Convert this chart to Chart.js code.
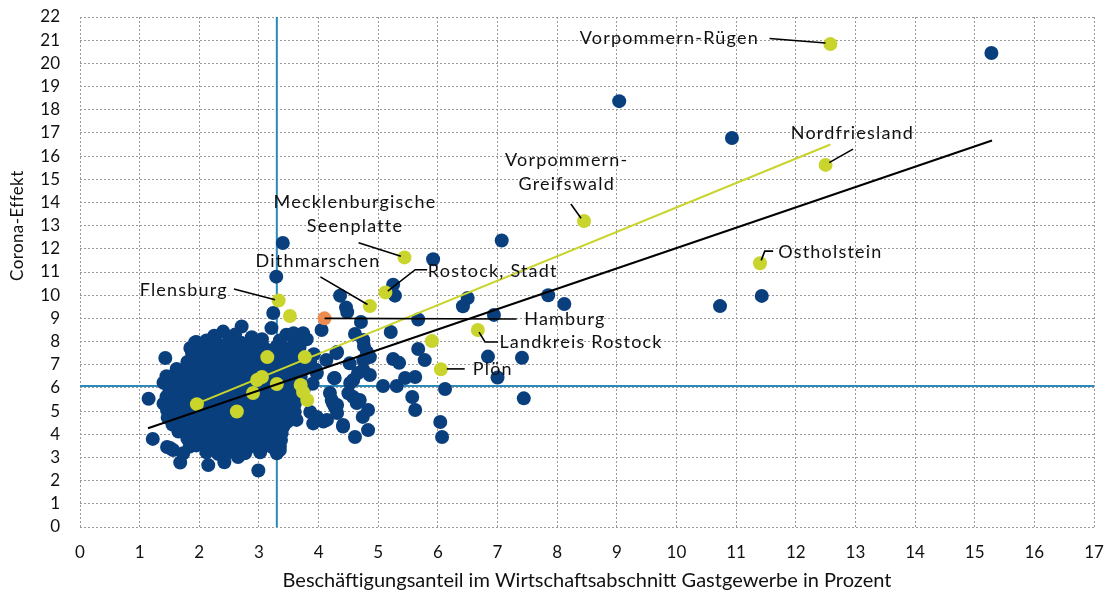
<!DOCTYPE html>
<html>
<head>
<meta charset="utf-8">
<script src="https://cdn.jsdelivr.net/npm/chart.js@4"></script>
<style>
  html, body { margin: 0; padding: 0; background: #fff; }
  #wrap { width: 1108px; height: 596px; }
</style>
</head>
<body>
<div id="wrap"><canvas id="coronaChart"></canvas></div>
<script>
// Kreise: Beschäftigungsanteil Gastgewerbe (x) vs. Corona-Effekt (y)
const otherDistricts = [
  [15.28,20.45],[9.04,18.37],[10.93,16.78],[3.4,12.25],[7.07,12.36],[5.92,11.55],[3.29,10.8],
  [4.36,9.98],[5.25,10.45],[5.28,9.98],[7.85,10.0],[8.12,9.62],[6.5,9.88],[6.42,9.52],
  [10.73,9.53],[11.43,9.97],[6.94,9.15],[5.67,8.95],[4.46,9.47],[4.48,9.27],[3.24,9.23],
  [4.71,8.84],[4.61,8.33],[5.21,8.41],[4.76,7.81],[4.81,7.55],[4.86,7.33],[4.31,7.55],
  [5.67,7.68],[5.78,7.2],[5.25,7.25],[5.35,7.08],[4.27,6.43],[4.66,6.64],[4.58,6.34],
  [4.53,6.21],[4.86,6.56],[5.08,6.08],[5.31,6.08],[5.45,6.43],[5.62,6.47],[6.12,5.95],
  [5.57,5.61],[5.62,5.05],[6.04,4.53],[6.07,3.88],[4.64,5.35],[4.58,5.61],[4.83,5.05],
  [4.74,4.75],[4.31,5.26],[4.41,4.4],[4.83,4.18],[4.61,3.88],[6.84,7.35],[7.41,7.3],
  [7.0,6.45],[7.44,5.55],
  [4.52,7.06],[4.75,7.2],[4.75,6.78],[4.26,6.42],[4.13,7.2],[3.97,6.63],[4.5,5.77],
  [4.69,5.48],[4.22,5.48],[4.27,5.19],[4.41,4.33],[4.08,4.55],[3.91,4.47],[3.63,4.62],
  [3.41,4.33],[3.38,4.04],[3.35,3.47],[3.3,3.18],[4.05,8.5],[4.3,7.5],[3.21,8.58],
  [3.46,8.29],[3.58,8.36],[3.74,8.36],[2.71,8.65],[2.4,8.43],[2.88,8.19],[4.75,8.07],
  [1.43,7.29],[1.15,5.53],[1.22,3.8],[1.46,3.45],[1.68,2.78],[2.15,2.67],[2.42,2.79],
  [2.99,2.44],[3.35,3.32],[3.37,3.75],[2.77,3.19],[2.65,3.02],[3.24,4.49],[3.47,4.53],
  [3.86,4.96],[3.97,4.75],[4.14,4.62],[4.31,4.92],[4.19,5.78],[4.24,5.35],[1.93,7.96],
  [1.88,7.5],[1.48,6.47],[1.64,6.56],[1.54,6.0],[1.73,6.34],[2.23,7.94],[2.55,7.77],
  [1.46,5.05],[1.51,3.41],[1.56,3.32],[1.84,3.47],[1.73,3.18],
  [2.25,8.25],[2.6,8.3],[3.05,8.1],
  [1.95,7.98],[2.12,8.05],[2.3,7.92],[2.5,8.02],[2.7,7.95],[2.88,8.0],[3.05,7.9],[3.35,8.05],[3.6,7.95],[3.8,8.1],
  [1.85,7.72],[2.05,7.65],[2.22,7.75],[2.42,7.68],[2.6,7.78],[2.78,7.62],[2.95,7.74],[3.12,7.66],[3.3,7.8],[3.47,7.7],[3.68,7.75],
  [1.92,7.45],[2.1,7.35],[2.3,7.42],[2.47,7.36],[2.66,7.45],[2.85,7.38],[3.02,7.44],[3.22,7.35],[3.42,7.42],[3.6,7.38],[3.92,7.45],
  [1.8,7.12],[1.97,7.05],[2.15,7.15],[2.35,7.08],[2.52,7.14],[2.7,7.04],[2.9,7.1],[3.07,7.16],[3.27,7.05],[3.45,7.12],[3.65,7.08],[3.86,7.15],
  [1.62,6.82],[1.77,6.75],[1.95,6.85],[2.12,6.78],[2.3,6.84],[2.5,6.76],[2.67,6.83],[2.85,6.78],[3.02,6.86],[3.2,6.75],[3.4,6.82],[3.57,6.77],[3.76,6.85],[3.96,6.78],
  [1.45,6.5],[1.65,6.45],[1.85,6.55],[2.02,6.48],[2.2,6.52],[2.4,6.46],[2.57,6.55],[2.76,6.48],[3.15,6.5],[3.32,6.45],[3.5,6.55],[3.7,6.48],
  [1.4,6.22],[1.56,6.15],[1.75,6.25],[1.95,6.18],[2.15,6.24],[2.32,6.15],[2.5,6.22],[2.7,6.16],[2.86,6.25],[3.05,6.18],[3.25,6.24],[3.45,6.16],[3.65,6.22],[3.9,6.18],
  [1.5,5.92],[1.7,5.86],[1.9,5.95],[2.06,5.88],[2.25,5.94],[2.45,5.86],[2.62,5.93],[2.8,5.87],[3.0,5.95],[3.2,5.88],[3.36,5.94],[3.55,5.86],[3.75,5.92],
  [1.45,5.62],[1.62,5.55],[1.8,5.64],[2.0,5.57],[2.2,5.63],[2.36,5.55],[2.55,5.62],[2.75,5.56],[2.92,5.64],[3.1,5.57],[3.3,5.63],[3.5,5.55],[3.65,5.6],
  [1.4,5.32],[1.56,5.25],[1.75,5.34],[1.95,5.27],[2.12,5.33],[2.3,5.25],[2.5,5.32],[2.7,5.26],[2.86,5.34],[3.05,5.27],[3.25,5.33],[3.45,5.25],[3.6,5.3],
  [1.5,5.02],[1.7,4.95],[1.9,5.04],[2.06,4.97],[2.25,5.03],[2.45,4.95],[2.8,4.96],[3.0,5.04],[3.2,4.97],[3.4,5.03],[3.6,4.96],
  [1.47,4.72],[1.66,4.65],[1.85,4.74],[2.02,4.67],[2.2,4.73],[2.4,4.65],[2.56,4.72],[2.76,4.66],[2.95,4.74],[3.15,4.67],[3.35,4.73],[3.5,4.66],
  [1.55,4.42],[1.75,4.35],[1.95,4.44],[2.12,4.37],[2.3,4.43],[2.5,4.35],[2.7,4.42],[2.86,4.36],[3.05,4.44],[3.25,4.37],
  [1.65,4.12],[1.85,4.05],[2.02,4.14],[2.2,4.07],[2.4,4.13],[2.6,4.05],[2.8,4.12],[2.96,4.06],[3.15,4.14],[3.32,4.08],
  [1.8,3.82],[1.97,3.75],[2.15,3.84],[2.35,3.77],[2.52,3.83],[2.7,3.75],[2.9,3.82],[3.1,3.76],[3.28,3.84],
  [1.95,3.52],[2.12,3.45],[2.3,3.54],[2.47,3.47],[2.65,3.53],[2.85,3.46],[3.05,3.52],[3.22,3.45],
  [2.12,3.22],[2.32,3.15],[2.52,3.24],[2.75,3.18],[3.02,3.22]
];

// Küstenkreise (gelb), benannt
const namedCoastal = ['Vorpommern-Rügen','Nordfriesland','Vorpommern-Greifswald','Ostholstein',
  'Mecklenburgische Seenplatte','Rostock, Stadt','Dithmarschen','Flensburg','Landkreis Rostock','Plön'];
const namedCoastalX = [12.58, 12.5, 8.45, 11.4, 5.44, 5.12, 4.86, 3.33, 6.67, 6.05];
const namedCoastalY = [20.83, 15.62, 13.2, 11.38, 11.63, 10.12, 9.53, 9.77, 8.5, 6.8];
// weitere Küstenkreise ohne Beschriftung
const otherCoastalX = [3.52, 5.9, 3.14, 3.77, 3.05, 2.97, 3.3, 2.9, 3.7, 3.74, 3.81, 1.96, 2.63];
const otherCoastalY = [9.1, 8.02, 7.33, 7.33, 6.47, 6.34, 6.17, 5.78, 6.13, 5.82, 5.48, 5.3, 4.98];

const hamburgX = 4.1;
const hamburgY = 9.0;

const trendAllX = [1.14, 15.29];
const trendAllY = [4.26, 16.67];
const trendCoastX = [1.96, 12.58];
const trendCoastY = [5.32, 16.5];

// Mittelwerte (Referenzlinien)
const meanX = 3.3;
const meanY = 6.08;

const xTicks = [0,1,2,3,4,5,6,7,8,9,10,11,12,13,14,15,16,17];
const yTicks = [0,1,2,3,4,5,6,7,8,9,10,11,12,13,14,15,16,17,18,19,20,21,22];

// Beschriftungen mit Führungslinien
const callouts = [
  { lines: ['Vorpommern-Rügen'], at: [9.88, 21.07], leader: [[11.56,21.07],[12.5,20.88]] },
  { lines: ['Nordfriesland'], at: [12.95, 17.0], leader: [[12.96,16.3],[12.56,15.72]] },
  { lines: ['Vorpommern-','Greifswald'], at: [8.16, 15.83], leader: [[8.23,13.93],[8.4,13.32]] },
  { lines: ['Mecklenburgische','Seenplatte'], at: [4.61, 14.0], leader: [[4.67,12.26],[5.38,11.68]] },
  { lines: ['Dithmarschen'], at: [3.99, 11.47], leader: [[4.03,10.79],[4.82,9.6]] },
  { lines: ['Rostock, Stadt'], at: [6.92, 11.05], leader: [[5.82,11.1],[5.62,11.1],[5.16,10.18]] },
  { lines: ['Flensburg'], at: [1.74, 10.22], leader: [[2.58,10.27],[3.27,9.8]] },
  { lines: ['Hamburg'], at: [8.13, 8.95], leader: [[4.1,9.0],[7.32,8.97]] },
  { lines: ['Landkreis Rostock'], at: [8.4, 7.99], leader: [[6.69,8.41],[6.79,7.98],[7.01,7.98]] },
  { lines: ['Plön'], at: [6.92, 6.8], leader: [[6.15,6.82],[6.45,6.82]] },
  { lines: ['Ostholstein'], at: [12.58, 11.86], leader: [[11.62,11.9],[11.48,11.9],[11.42,11.5]] }
];

const FONT = 'Lato, "Open Sans", sans-serif';
const Y_TITLE = 'Corona-Effekt';

const toPoints = (xs, ys) => xs.map((x, i) => ({ x: x, y: ys[i] }));

const calloutPlugin = {
  id: 'callouts',
  afterDatasetsDraw(chart) {
    const { ctx, scales } = chart;
    const sx = scales.x, sy = scales.y;
    ctx.save();
    ctx.strokeStyle = '#000';
    ctx.lineWidth = 1.6;
    callouts.forEach(c => {
      ctx.beginPath();
      c.leader.forEach(([vx, vy], i) => {
        const px = sx.getPixelForValue(vx), py = sy.getPixelForValue(vy);
        if (i === 0) ctx.moveTo(px, py); else ctx.lineTo(px, py);
      });
      ctx.stroke();
    });
    ctx.fillStyle = '#111';
    ctx.font = '18px ' + FONT;
    ctx.letterSpacing = '1.2px';
    ctx.textAlign = 'center';
    ctx.textBaseline = 'middle';
    callouts.forEach(c => {
      const px = sx.getPixelForValue(c.at[0]);
      const py = sy.getPixelForValue(c.at[1]);
      c.lines.forEach((t, i) => ctx.fillText(t, px, py + i * 24));
    });
    // y-Achsentitel (in der Vorlage etwas oberhalb der Mitte)
    ctx.letterSpacing = '0.4px';
    ctx.font = '17px ' + FONT;
    ctx.translate(18, sy.getPixelForValue(13.0));
    ctx.rotate(-Math.PI / 2);
    ctx.fillText(Y_TITLE, 0, 0);
    ctx.restore();
  }
};

new Chart(document.getElementById('coronaChart'), {
  type: 'scatter',
  data: {
    datasets: [
      {
        label: 'Mittelwert x',
        data: [{ x: meanX, y: yTicks[0] }, { x: meanX, y: yTicks[yTicks.length - 1] }],
        showLine: true, borderColor: '#2b8ab8', borderWidth: 2, pointRadius: 0, order: 6
      },
      {
        label: 'Mittelwert y',
        data: [{ x: xTicks[0], y: meanY }, { x: xTicks[xTicks.length - 1], y: meanY }],
        showLine: true, borderColor: '#2b8ab8', borderWidth: 2, pointRadius: 0, order: 6
      },
      {
        label: 'Kreise',
        data: otherDistricts.map(p => ({ x: p[0], y: p[1] })),
        backgroundColor: '#0a3f7e', borderWidth: 0, pointRadius: 7, order: 5
      },
      {
        label: 'Küstenkreise',
        data: toPoints(otherCoastalX, otherCoastalY).concat(toPoints(namedCoastalX, namedCoastalY)),
        backgroundColor: '#c9d42c', borderWidth: 0, pointRadius: 7, order: 4
      },
      {
        label: 'Hamburg',
        data: [{ x: hamburgX, y: hamburgY }],
        backgroundColor: '#ec8c4e', borderWidth: 0, pointRadius: 7, order: 3
      },
      {
        label: 'Trend alle',
        data: toPoints(trendAllX, trendAllY),
        showLine: true, borderColor: '#000', borderWidth: 2, pointRadius: 0, order: 1
      },
      {
        label: 'Trend Küste',
        data: toPoints(trendCoastX, trendCoastY),
        showLine: true, borderColor: '#c9d42c', borderWidth: 2, pointRadius: 0, order: 2
      }
    ]
  },
  options: {
    responsive: true,
    maintainAspectRatio: false,
    animation: false,
    events: [],
    layout: { padding: { top: 17, right: 14, left: 0, bottom: 0 } },
    plugins: { legend: { display: false }, tooltip: { enabled: false } },
    scales: {
      x: {
        type: 'linear', min: 0, max: 17,
        afterFit: s => { s.height = 69; s.paddingLeft = 0; s.paddingRight = 0; },
        afterBuildTicks: s => { s.ticks = xTicks.map(v => ({ value: v })); },
        ticks: { color: '#111', padding: 15, autoSkip: false, maxRotation: 0, font: { family: FONT, size: 17 } },
        grid: { color: '#9a9a9a', lineWidth: 1, drawTicks: false },
        border: { display: false, dash: [2, 2] },
        title: {
          display: true,
          text: 'Beschäftigungsanteil im Wirtschaftsabschnitt Gastgewerbe in Prozent',
          color: '#111', font: { family: FONT, size: 20 }, padding: { top: 0, bottom: 3 }
        }
      },
      y: {
        type: 'linear', min: 0, max: 22,
        afterFit: s => { s.width = 80; s.paddingTop = 0; s.paddingBottom = 0; },
        afterBuildTicks: s => { s.ticks = yTicks.map(v => ({ value: v })); },
        ticks: { color: '#111', padding: 20, autoSkip: false, font: { family: FONT, size: 17 } },
        grid: { color: '#9a9a9a', lineWidth: 1, drawTicks: false },
        border: { display: false, dash: [2, 2] }
      }
    }
  },
  plugins: [calloutPlugin]
});
</script>
</body>
</html>
